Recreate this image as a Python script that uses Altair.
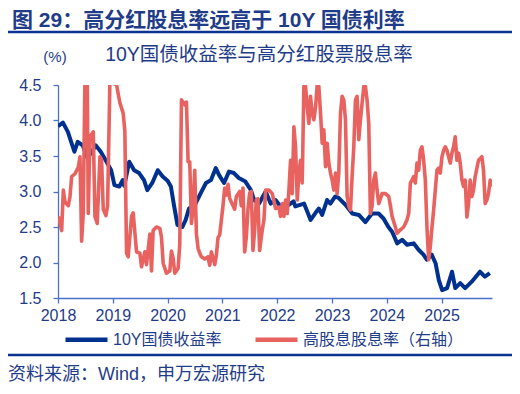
import altair as alt
import pandas as pd

# ---- data ----
blue_t = [2018.00, 2018.09, 2018.18, 2018.24, 2018.30, 2018.36, 2018.45, 2018.54, 2018.58, 2018.69,
          2018.78, 2018.87, 2018.97, 2019.03, 2019.12, 2019.18, 2019.21, 2019.30, 2019.39, 2019.48,
          2019.57, 2019.63, 2019.72, 2019.82, 2019.91, 2020.00, 2020.06, 2020.12, 2020.18, 2020.27,
          2020.33, 2020.39, 2020.51, 2020.60, 2020.70, 2020.79, 2020.88, 2020.94, 2021.03, 2021.12,
          2021.21, 2021.30, 2021.42, 2021.52, 2021.58, 2021.67, 2021.79, 2021.88, 2021.97, 2022.05,
          2022.15, 2022.30, 2022.33, 2022.49, 2022.61, 2022.70, 2022.76, 2022.82, 2022.91, 2022.97,
          2023.06, 2023.12, 2023.25, 2023.37, 2023.49, 2023.61, 2023.73, 2023.85, 2023.94, 2024.03,
          2024.10, 2024.19, 2024.28, 2024.37, 2024.49, 2024.58, 2024.67, 2024.73, 2024.82, 2024.89,
          2024.95, 2025.01, 2025.10, 2025.19, 2025.25, 2025.34, 2025.43, 2025.55, 2025.70, 2025.79,
          2025.88]
blue_v = [3.92, 3.97, 3.84, 3.70, 3.56, 3.70, 3.65, 3.47, 3.52, 3.65,
          3.56, 3.44, 3.30, 3.09, 3.07, 3.16, 3.08, 3.42, 3.30, 3.26,
          3.16, 3.02, 3.12, 3.30, 3.21, 3.15, 3.07, 2.79, 2.53, 2.50,
          2.60, 2.76, 2.83, 2.97, 3.12, 3.16, 3.33, 3.23, 3.12, 3.28,
          3.26, 3.19, 3.14, 3.02, 2.88, 2.83, 3.00, 2.83, 2.88, 2.80,
          2.78, 2.86, 2.79, 2.83, 2.60, 2.70, 2.76, 2.67, 2.88, 2.83,
          2.93, 2.91, 2.81, 2.69, 2.67, 2.57, 2.69, 2.69, 2.62, 2.50,
          2.43, 2.27, 2.32, 2.25, 2.27, 2.18, 2.11, 2.04, 2.11, 1.99,
          1.75, 1.61, 1.64, 1.87, 1.64, 1.71, 1.64, 1.73, 1.87, 1.80,
          1.85]

red_t = [2018.006, 2018.067, 2018.097, 2018.128, 2018.188, 2018.219, 2018.249, 2018.310, 2018.370, 2018.401,
         2018.431, 2018.461, 2018.492, 2018.534, 2018.552, 2018.583, 2018.644, 2018.674, 2018.716, 2018.765,
         2018.795, 2018.826, 2018.874, 2018.905, 2018.947, 2019.069, 2019.129, 2019.190, 2019.220, 2019.251,
         2019.281, 2019.342, 2019.372, 2019.403, 2019.433, 2019.494, 2019.524, 2019.585, 2019.615, 2019.676,
         2019.706, 2019.736, 2019.797, 2019.858, 2019.888, 2019.919, 2019.979, 2020.040, 2020.070, 2020.101,
         2020.131, 2020.192, 2020.222, 2020.253, 2020.313, 2020.344, 2020.374, 2020.404, 2020.435, 2020.465,
         2020.495, 2020.526, 2020.556, 2020.587, 2020.617, 2020.677, 2020.738, 2020.769, 2020.799, 2020.860,
         2020.890, 2020.920, 2020.951, 2021.011, 2021.042, 2021.072, 2021.103, 2021.133, 2021.194, 2021.224,
         2021.254, 2021.315, 2021.345, 2021.376, 2021.406, 2021.436, 2021.467, 2021.497, 2021.528, 2021.558,
         2021.588, 2021.619, 2021.649, 2021.679, 2021.728, 2021.758, 2021.789, 2021.849, 2021.910, 2021.971,
         2022.032, 2022.062, 2022.092, 2022.123, 2022.153, 2022.183, 2022.214, 2022.244, 2022.274, 2022.305,
         2022.335, 2022.366, 2022.396, 2022.426, 2022.457, 2022.487, 2022.517, 2022.548, 2022.578, 2022.608,
         2022.639, 2022.669, 2022.700, 2022.730, 2022.760, 2022.791, 2022.821, 2022.851, 2022.882, 2022.912,
         2022.942, 2022.973, 2023.003, 2023.033, 2023.064, 2023.094, 2023.124, 2023.155, 2023.185, 2023.215,
         2023.246, 2023.276, 2023.307, 2023.337, 2023.367, 2023.398, 2023.428, 2023.458, 2023.489, 2023.519,
         2023.549, 2023.580, 2023.610, 2023.640, 2023.671, 2023.701, 2023.731, 2023.762, 2023.792, 2023.822,
         2023.853, 2023.914, 2023.975, 2024.035, 2024.066, 2024.096, 2024.157, 2024.187, 2024.248, 2024.308,
         2024.369, 2024.400, 2024.430, 2024.460, 2024.491, 2024.521, 2024.551, 2024.582, 2024.612, 2024.642,
         2024.673, 2024.703, 2024.733, 2024.764, 2024.794, 2024.825, 2024.855, 2024.885, 2024.916, 2024.946,
         2024.976, 2025.007, 2025.037, 2025.067, 2025.098, 2025.128, 2025.158, 2025.189, 2025.219, 2025.249,
         2025.280, 2025.310, 2025.340, 2025.371, 2025.401, 2025.431, 2025.462, 2025.492, 2025.522, 2025.553,
         2025.583, 2025.613, 2025.674, 2025.735, 2025.765, 2025.796, 2025.826, 2025.856, 2025.887, 2025.917]
red_v = [2.65, 2.45, 3.02, 2.85, 2.80, 2.93, 3.21, 3.25, 3.34, 3.49,
         2.30, 2.70, 4.60, 4.60, 2.69, 3.77, 3.84, 2.65, 2.55, 3.49,
         3.45, 2.75, 2.66, 2.80, 4.55, 4.50, 4.25, 4.10, 3.85, 2.13,
         2.08, 2.65, 2.70, 2.42, 2.15, 2.13, 1.94, 2.15, 1.97, 2.40,
         1.88, 2.45, 2.50, 2.48, 2.36, 1.99, 1.85, 1.88, 2.16, 2.06,
         1.85, 1.92, 2.25, 4.29, 4.22, 4.26, 3.42, 3.42, 2.55, 2.75,
         3.30, 2.40, 2.20, 2.13, 2.08, 2.05, 2.08, 1.96, 2.15, 1.97,
         2.10, 2.35, 2.39, 2.80, 3.05, 2.95, 3.10, 2.90, 2.80, 2.75,
         2.93, 3.00, 2.80, 3.05, 2.15, 2.35, 2.75, 2.98, 3.00, 2.17,
         2.45, 2.88, 2.90, 2.17, 2.46, 2.60, 3.02, 3.02, 2.97, 2.76,
         2.78, 2.65, 2.83, 2.65, 2.88, 2.69, 3.02, 3.44, 2.97, 3.91,
         3.63, 2.88, 3.26, 3.44, 3.12, 4.48, 4.48, 4.19, 3.96, 4.34,
         4.10, 4.01, 4.19, 4.50, 4.48, 4.10, 3.68, 3.87, 3.35, 3.68,
         3.40, 3.26, 3.16, 3.02, 3.26, 2.97, 3.26, 4.10, 4.34, 4.29,
         4.01, 2.93, 2.79, 2.74, 3.21, 3.63, 4.29, 4.34, 3.73, 4.01,
         4.24, 4.48, 4.48, 4.29, 3.96, 2.69, 2.79, 3.16, 3.26, 3.02,
         2.83, 2.97, 2.97, 2.93, 2.80, 2.65, 2.50, 2.41, 2.46, 2.50,
         2.60, 2.69, 3.12, 3.16, 3.21, 3.12, 3.40, 3.30, 3.58, 3.63,
         3.44, 3.16, 2.50, 2.04, 2.22, 2.50, 2.74, 3.02, 3.30, 3.33,
         3.26, 3.49, 3.58, 3.63, 3.58, 3.49, 3.40, 3.54, 3.63, 3.77,
         3.44, 3.54, 3.40, 3.16, 3.07, 3.16, 2.64, 2.83, 3.16, 2.93,
         3.02, 3.21, 3.44, 3.49, 3.30, 2.83, 2.88, 2.97, 3.16, 3.07]

series_names = ["10Y国债收益率", "高股息股息率（右轴）"]
year_ticks = [2018, 2019, 2020, 2021, 2022, 2023, 2024, 2025]
y_ticks = [1.5, 2.0, 2.5, 3.0, 3.5, 4.0, 4.5]

title_text = "图 29：高分红股息率远高于 10Y 国债利率"
subtitle_text = "10Y国债收益率与高分红股票股息率"
unit_text = "(%)"
source_text = "资料来源：Wind，申万宏源研究"

# ---- styling ----
W, H = 434, 213
NAVY = "#1F3C88"
AXIS = "#4A72C8"
BLUE = "#00318F"
RED = "#E8625F"
RULE = "#0A3290"
MIX = "Liberation Sans, Noto Sans CJK SC"

df_b = pd.DataFrame({"t": blue_t, "v": blue_v, "s": series_names[0]})
df_r = pd.DataFrame({"t": red_t, "v": red_v, "s": series_names[1]})

x = alt.X("t:Q",
          scale=alt.Scale(domain=[2018, 2025.92], nice=False, zero=False),
          axis=alt.Axis(values=year_ticks, format="d", title=None, grid=False,
                        labelFont="Liberation Sans", labelFontSize=16, labelColor=NAVY,
                        domainColor=AXIS, domainWidth=1.3, tickColor=AXIS, tickSize=5,
                        tickWidth=1.3, labelPadding=4, labelFlush=False))
y = alt.Y("v:Q",
          scale=alt.Scale(domain=[1.5, 4.5], nice=False, zero=False),
          axis=alt.Axis(values=y_ticks, format=".1f", title=None, grid=False,
                        labelFont="Liberation Sans", labelFontSize=16, labelColor=NAVY,
                        domainColor=AXIS, domainWidth=1.3, tickColor=AXIS, tickSize=5,
                        tickWidth=1.3, labelPadding=12))
color = alt.Color("s:N",
                  scale=alt.Scale(domain=series_names, range=[BLUE, RED]),
                  legend=alt.Legend(orient="none", legendX=5, legendY=231, direction="horizontal",
                                    title=None, symbolType="stroke", symbolSize=1764,
                                    symbolStrokeWidth=4.5, labelFont=MIX, labelFontSize=16,
                                    labelColor=NAVY, labelOffset=3, columnPadding=24,
                                    labelLimit=400))

blue = alt.Chart(df_b).mark_line(strokeWidth=4, clip=True, strokeJoin="round").encode(
    x=x, y=y, color=color)
red = alt.Chart(df_r).mark_line(strokeWidth=3.6, clip=True, strokeJoin="round").encode(
    x=x, y=y, color=color)

one = pd.DataFrame({"a": [0]})


def txt(s, px, py, size, weight="normal", align="left", font=MIX):
    return alt.Chart(one).mark_text(text=s, fontSize=size, font=font, fontWeight=weight,
                                    color=NAVY, align=align, baseline="middle").encode(
        x=alt.value(px), y=alt.value(py))


def hrule(py):
    return alt.Chart(one).mark_rule(color=RULE, strokeWidth=2.5).encode(
        x=alt.value(-50), x2=alt.value(455), y=alt.value(py))


title = txt(title_text, -46, -64.5, 21, weight="bold")
sub = txt(subtitle_text, 201, -30, 19.5, align="center")
unit = txt(unit_text, -3, -28, 15, align="center", font="Liberation Sans")
source = txt(source_text, -50, 290, 18)

chart = alt.layer(blue, red, title, sub, unit, source, hrule(-53), hrule(270)).properties(
    width=W, height=H,
    padding={"left": 50, "top": 77, "right": 20, "bottom": 88},
    autosize=alt.AutoSizeParams(type="none"),
).configure_view(stroke=None)

chart.save("out.html", embed_options={"renderer": "svg", "actions": False})
